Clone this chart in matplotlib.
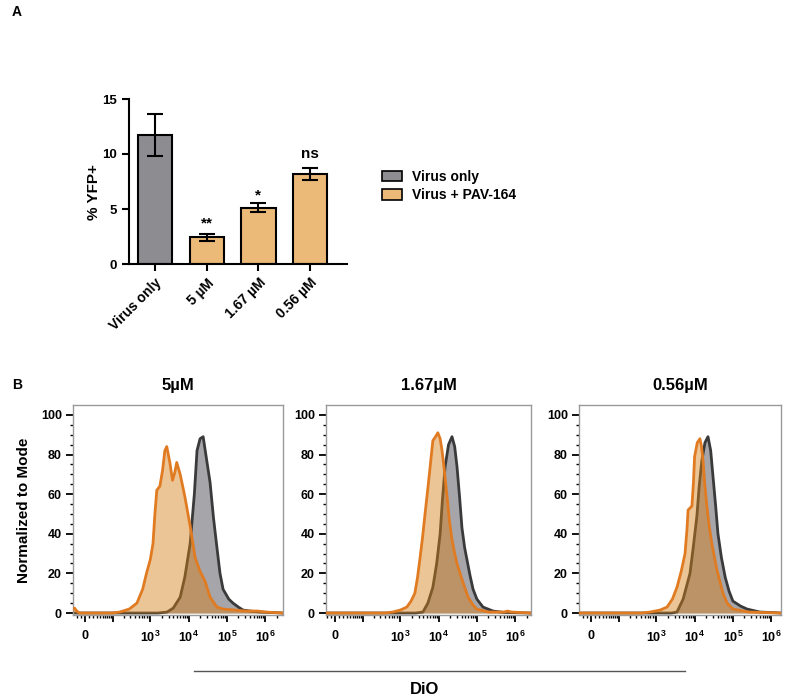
import numpy as np
import matplotlib
matplotlib.use("Agg")
import matplotlib.pyplot as plt
from matplotlib.patches import Patch
from matplotlib.lines import Line2D

plt.rcParams['font.family'] = ['Liberation Sans', 'DejaVu Sans']
plt.rcParams['font.weight'] = 'bold'
plt.rcParams['mathtext.fontset'] = 'custom'
plt.rcParams['mathtext.bf'] = 'Liberation Sans:bold'
plt.rcParams['mathtext.rm'] = 'Liberation Sans:bold'

# ---- panel A data ----
bar_labels = ['Virus only', '5 µM', '1.67 µM', '0.56 µM']
yfp_mean = [11.7, 2.45, 5.12, 8.15]
yfp_err = [1.9, 0.32, 0.40, 0.55]
signif = ['', '**', '*', 'ns']
sig_y = [0, 3.3, 5.9, 9.6]

# ---- panel B data (x in log-display decades, y in % of mode) ----
titles = ['5µM', '1.67µM', '0.56µM']

p1_gray_x = [0.98, 3.2, 3.44, 3.6, 3.78, 3.9, 4.04, 4.15, 4.22, 4.3, 4.38, 4.45, 4.56, 4.65,
             4.74, 4.82, 4.9, 5.05, 5.16, 5.3, 5.42, 5.6, 5.86, 6.46]
p1_gray_y = [0, 0, 0.5, 2.5, 8, 18, 35, 60, 82, 88, 89, 80, 66, 48,
             33, 20, 12, 7, 5, 3, 1.5, 1, 0.5, 0]
p1_pav_x = [0.98, 1.02, 1.08, 1.15, 1.3, 2.0, 2.2, 2.45, 2.65, 2.8, 2.9, 3.0, 3.07, 3.12,
            3.17, 3.25, 3.32, 3.38, 3.43, 3.51, 3.58, 3.64, 3.69, 3.78, 3.9, 4.04, 4.17,
            4.3, 4.43, 4.56, 4.74, 4.9, 5.2, 5.5, 5.8, 6.0, 6.46]
p1_pav_y = [2, 2.5, 1, 0, 0, 0, 0.5, 2, 5, 12, 20, 27, 35, 50,
            62, 64, 72, 82, 84, 76, 67, 71, 76, 70, 59, 44, 28,
            21, 16, 8, 3, 2, 1.5, 1, 1, 0.5, 0]

p2_gray_x = [1.06, 3.4, 3.59, 3.72, 3.85, 3.95, 4.04, 4.1, 4.17, 4.26, 4.35, 4.42, 4.48,
             4.55, 4.61, 4.68, 4.74, 4.82, 4.9, 5.0, 5.16, 5.42, 5.7, 6.41]
p2_gray_y = [0, 0, 0.5, 5, 13, 25, 40, 57, 74, 85, 89, 84, 74,
             58, 43, 33, 27, 19, 12, 7, 3, 1, 0.3, 0]
p2_pav_x = [1.06, 2.6, 2.8, 3.0, 3.17, 3.28, 3.38, 3.45, 3.51, 3.58, 3.64, 3.72, 3.78,
            3.85, 3.92, 3.98, 4.04, 4.09, 4.15, 4.22, 4.28, 4.35, 4.42, 4.48, 4.61,
            4.77, 4.9, 5.0, 5.3, 5.7, 5.8, 5.9, 6.41]
p2_pav_y = [0, 0, 0.5, 1.5, 3, 6, 10, 18, 27, 38, 49, 63, 74,
            87, 89, 91, 88, 82, 72, 59, 47, 37, 30, 25, 17,
            8, 4, 2, 0.5, 0.5, 1, 0.5, 0]

p3_gray_x = [0.98, 3.4, 3.54, 3.7, 3.88, 3.97, 4.06, 4.12, 4.19, 4.27, 4.35, 4.42, 4.48,
             4.55, 4.61, 4.7, 4.8, 4.9, 5.0, 5.2, 5.37, 5.7, 6.26]
p3_gray_y = [0, 0, 0.5, 7, 20, 34, 49, 64, 77, 86, 89, 82, 69,
             54, 40, 28, 18, 11, 6, 3.5, 2, 0.5, 0]
p3_pav_x = [0.98, 2.6, 2.84, 3.1, 3.28, 3.42, 3.54, 3.65, 3.75, 3.8, 3.83, 3.93, 3.97,
            4.0, 4.07, 4.14, 4.18, 4.22, 4.27, 4.32, 4.38, 4.45, 4.58, 4.74, 4.85,
            5.0, 5.4, 6.26]
p3_pav_y = [0, 0, 0.5, 1.5, 3, 7, 13, 21, 30, 42, 52, 54, 66,
            79, 86, 88, 84, 77, 64, 54, 44, 35, 22, 10, 5,
            2, 0.5, 0]

gray_x = [p1_gray_x, p2_gray_x, p3_gray_x]
gray_y = [p1_gray_y, p2_gray_y, p3_gray_y]
pav_x = [p1_pav_x, p2_pav_x, p3_pav_x]
pav_y = [p1_pav_y, p2_pav_y, p3_pav_y]

W, H = 787, 700
fig = plt.figure(figsize=(W / 100, H / 100), dpi=100)


def box(l, t, r, b):
    return [l / W, 1 - b / H, (r - l) / W, (b - t) / H]


# ================= panel A =================
axA = fig.add_axes(box(129, 99, 347, 264))
xpos = np.arange(len(bar_labels))
colors = ['#8c8c91', '#ebb978', '#ebb978', '#ebb978']
axA.bar(xpos, yfp_mean, width=0.66, color=colors, edgecolor='black', linewidth=1.5,
        yerr=yfp_err, capsize=6, error_kw=dict(elinewidth=1.5, capthick=1.5, ecolor='black'))
for i, s in enumerate(signif):
    if s:
        axA.text(xpos[i], sig_y[i], s, ha='center', va='baseline',
                 fontsize=11 if s == 'ns' else 11, fontweight='bold')
axA.set_xlim(-0.5, 3.71)
axA.set_ylim(0, 15)
axA.set_yticks([0, 5, 10, 15])
axA.set_xticks(xpos)
axA.set_xticklabels(bar_labels, rotation=45, ha='right', rotation_mode='anchor',
                    fontsize=10, fontweight='bold')
axA.tick_params(axis='y', labelsize=9.5, width=1.5, length=5)
axA.tick_params(axis='x', width=1.5, length=5)
for sp in ['top', 'right']:
    axA.spines[sp].set_visible(False)
for sp in ['left', 'bottom']:
    axA.spines[sp].set_linewidth(1.5)
fig.text(94 / W, 1 - 192 / H, '% YFP+', rotation=90, ha='center', va='center',
         fontsize=11, fontweight='bold')

fig.legend(handles=[Patch(facecolor='#8c8c91', edgecolor='black', linewidth=1.2, label='Virus only'),
                    Patch(facecolor='#ebb978', edgecolor='black', linewidth=1.2, label='Virus + PAV-164')],
           loc='upper left', bbox_to_anchor=(376 / W, 1 - 164 / H), frameon=False,
           fontsize=10, handlelength=1.5, handleheight=0.75, handletextpad=0.7,
           labelspacing=0.35, borderaxespad=0)

fig.text(12 / W, 1 - 12 / H, 'A', fontsize=10, fontweight='bold', va='center')
fig.text(12 / W, 1 - 385 / H, 'B', fontsize=10, fontweight='bold', va='center')

# ================= panel B =================
# biexponential-like display: linear near zero, log above ~100
s_lin = 10 ** 1.3


def fwd(v):
    z = np.asarray(v, dtype=float) / (2 * s_lin)
    return np.arcsinh(z) / np.log(10) + np.log10(s_lin)


lefts = [73, 326, 579]
rights = [283, 531, 781]
dec2_px = [112, 362, 618]
px_per_dec = 38.3

major_vals = [0, 100, 1e3, 1e4, 1e5, 1e6]
major_labels = ['0', '', r'$\mathbf{10^{3}}$', r'$\mathbf{10^{4}}$',
                r'$\mathbf{10^{5}}$', r'$\mathbf{10^{6}}$']
minor_vals = [v for v in range(-20, 100, 10) if v != 0]
for n in range(2, 6):
    minor_vals += [k * 10 ** n for k in range(2, 10)]
minor_vals += [2e6, 3e6]

for i in range(3):
    ax = fig.add_axes(box(lefts[i], 405, rights[i], 615))
    ax.fill_between(gray_x[i], 0, gray_y[i], color='#a5a5aa', linewidth=0, zorder=1)
    ax.plot(gray_x[i], gray_y[i], color='#3a3a3a', lw=2, zorder=2)
    ax.fill_between(pav_x[i], 0, pav_y[i], color='#d67f16', alpha=0.45, linewidth=0, zorder=3)
    ax.plot(pav_x[i], pav_y[i], color='#e07b22', lw=2, zorder=4)
    x0 = (lefts[i] - dec2_px[i]) / px_per_dec + 2
    x1 = (rights[i] - dec2_px[i]) / px_per_dec + 2
    ax.set_xlim(x0, x1)
    ax.set_ylim(-1, 105)
    mv = [fwd(v) for v in minor_vals]
    ax.set_xticks([fwd(v) for v in major_vals])
    ax.set_xticklabels(major_labels, fontsize=9.5, fontweight='bold')
    ax.set_xticks([m for m in mv if x0 < m < x1], minor=True)
    ax.set_yticks(np.arange(0, 101, 20))
    ax.set_yticks(np.arange(0, 101, 5), minor=True)
    ax.tick_params(axis='both', which='major', length=5, width=1.3, labelsize=9, pad=3)
    ax.tick_params(axis='x', which='major', pad=6)
    ax.tick_params(axis='both', which='minor', length=2.5, width=1)
    for sp in ax.spines.values():
        sp.set_color('#9a9a9a')
        sp.set_linewidth(1)
    ax.set_title(titles[i], fontsize=12, fontweight='bold', pad=11)

fig.text(24 / W, 1 - 510 / H, 'Normalized to Mode', rotation=90, ha='center', va='center',
         fontsize=11, fontweight='bold')
fig.add_artist(Line2D([194 / W, 685 / W], [1 - 671 / H, 1 - 671 / H], color='#555555', lw=1))
fig.text(425 / W, 1 - 690 / H, 'DiO', ha='center', va='center', fontsize=12, fontweight='bold')

fig.savefig('out.png', dpi=100)
